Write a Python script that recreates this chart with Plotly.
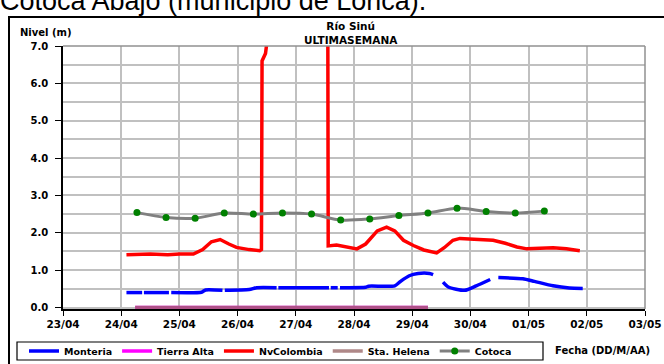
import plotly.graph_objects as go

# ---------------- data ----------------
monteria_t = ["2008-04-24 02:10", "2008-04-24 08:38", None, "2008-04-24 09:22", "2008-04-24 19:41", None,
              "2008-04-24 20:38", "2008-04-25 09:07", "2008-04-25 10:48", "2008-04-25 17:46", None,
              "2008-04-25 18:43", "2008-04-26 04:48", "2008-04-26 07:55", "2008-04-26 16:05", None,
              "2008-04-26 16:48", "2008-04-27 13:41", None, "2008-04-27 14:24", "2008-04-27 17:17", None,
              "2008-04-27 18:14", "2008-04-28 04:48", "2008-04-28 06:00", "2008-04-28 16:48",
              "2008-04-28 19:12", "2008-04-28 22:48", "2008-04-29 02:24", "2008-04-29 07:12",
              "2008-04-29 08:38", None, "2008-04-29 12:43", "2008-04-29 14:53", "2008-04-29 21:36",
              "2008-04-30 02:24", "2008-04-30 08:10", None, "2008-04-30 11:31", "2008-04-30 21:36",
              "2008-05-01 02:24", "2008-05-01 10:05", "2008-05-01 16:48", "2008-05-01 22:19"]
monteria_v = [0.40, 0.40, None, 0.40, 0.40, None,
              0.40, 0.41, 0.47, 0.46, None,
              0.46, 0.48, 0.53, 0.53, None,
              0.53, 0.53, None, 0.53, 0.53, None,
              0.53, 0.54, 0.57, 0.58,
              0.70, 0.85, 0.91, 0.91,
              0.88, None, 0.68, 0.55, 0.46,
              0.58, 0.75, None, 0.80, 0.77,
              0.70, 0.58, 0.52, 0.51]

tierra_t = ["2008-04-24 05:45", "2008-04-29 06:30"]
tierra_v = [0.0, 0.0]

helena_t = ["2008-04-24 05:45", "2008-04-29 06:30"]
helena_v = [0.0, 0.0]

nvcol_t = ["2008-04-24 02:10", "2008-04-24 12:00", "2008-04-24 19:12", "2008-04-25 00:00",
           "2008-04-25 05:46", "2008-04-25 09:36", "2008-04-25 13:12", "2008-04-25 16:48",
           "2008-04-25 20:24", "2008-04-25 23:31", "2008-04-26 04:48", "2008-04-26 09:07",
           "2008-04-26 09:50", "2008-04-26 10:05", "2008-04-26 11:30", "2008-04-26 12:30",
           "2008-04-26 14:00", "2008-04-27 12:00", "2008-04-27 13:12", "2008-04-27 13:22",
           "2008-04-27 16:48", "2008-04-27 20:24", "2008-04-28 01:12", "2008-04-28 04:48",
           "2008-04-28 09:36", "2008-04-28 13:26", "2008-04-28 16:48", "2008-04-28 20:24",
           "2008-04-29 00:29", "2008-04-29 04:48", "2008-04-29 10:05", "2008-04-29 13:12",
           "2008-04-29 16:48", "2008-04-29 19:41", "2008-04-30 00:00", "2008-04-30 04:48",
           "2008-04-30 09:22", "2008-04-30 14:24", "2008-04-30 19:12", "2008-04-30 23:17",
           "2008-05-01 04:48", "2008-05-01 10:05", "2008-05-01 15:36", "2008-05-01 21:07"]
nvcol_v = [1.41, 1.43, 1.41, 1.43,
           1.43, 1.55, 1.76, 1.82,
           1.70, 1.61, 1.55, 1.52,
           1.55, 6.60, 6.80, 7.30,
           9.00, 9.00, 7.50, 1.65,
           1.67, 1.62, 1.57, 1.70,
           2.05, 2.15, 2.05, 1.80,
           1.66, 1.54, 1.46, 1.60,
           1.80, 1.85, 1.83, 1.82,
           1.80, 1.72, 1.62, 1.57,
           1.58, 1.60, 1.57, 1.52]

cotoca_t = ["2008-04-24 06:30", "2008-04-24 18:30", "2008-04-25 06:30", "2008-04-25 18:30",
            "2008-04-26 06:30", "2008-04-26 18:30", "2008-04-27 06:30", "2008-04-27 18:30",
            "2008-04-28 06:30", "2008-04-28 18:30", "2008-04-29 06:30", "2008-04-29 18:30",
            "2008-04-30 06:30", "2008-04-30 18:30", "2008-05-01 06:30"]
cotoca_v = [2.54, 2.41, 2.39, 2.53, 2.50, 2.53, 2.50, 2.34, 2.37, 2.46, 2.53, 2.66, 2.57, 2.53, 2.58]

x_ticks = ["2008-04-23", "2008-04-24", "2008-04-25", "2008-04-26", "2008-04-27", "2008-04-28",
           "2008-04-29", "2008-04-30", "2008-05-01", "2008-05-02", "2008-05-03"]
x_labels = ["23/04", "24/04", "25/04", "26/04", "27/04", "28/04", "29/04", "30/04", "01/05", "02/05", "03/05"]
y_ticks = [0, 1, 2, 3, 4, 5, 6, 7]
y_labels = ["0.0", "1.0", "2.0", "3.0", "4.0", "5.0", "6.0", "7.0"]

FONT = "Arial, Liberation Sans, sans-serif"
BFONT = "DejaVu Sans, Arial, sans-serif"
W, H = 664, 364
L, R, T, B = 63, 19, 46, 55
PW, PH = W - L - R, H - T - B


def px(xp):
    return (xp - L) / PW


def py(yp):
    return (H - B - yp) / PH


fig = go.Figure()
fig.add_trace(go.Scatter(x=monteria_t, y=monteria_v, name="Monteria", mode="lines",
                         line=dict(color="#0000FF", width=3.5, shape="spline", smoothing=0.6),
                         connectgaps=False))
fig.add_trace(go.Scatter(x=tierra_t, y=tierra_v, name="Tierra Alta", mode="lines",
                         line=dict(color="#FF00FF", width=3.5)))
fig.add_trace(go.Scatter(x=nvcol_t, y=nvcol_v, name="NvColombia", mode="lines",
                         line=dict(color="#FF0000", width=3.5)))
fig.add_trace(go.Scatter(x=helena_t, y=helena_v, name="Sta. Helena", mode="lines",
                         line=dict(color="rgba(153,102,102,0.78)", width=3.5)))
fig.add_trace(go.Scatter(x=cotoca_t, y=cotoca_v, name="Cotoca", mode="lines+markers",
                         line=dict(color="#808080", width=3, shape="spline", smoothing=0.8),
                         marker=dict(color="#008000", size=7)))

# outer frame
fig.add_shape(type="rect", xref="paper", yref="paper", x0=px(9), x1=px(700), y0=py(380), y1=py(17),
              line=dict(color="black", width=2), layer="below")
# legend box
fig.add_shape(type="rect", xref="paper", yref="paper", x0=px(17), x1=px(543), y0=py(360), y1=py(342),
              line=dict(color="black", width=1.2), fillcolor="white", layer="below")
# plot border (top / right)
fig.add_shape(type="line", xref="paper", yref="paper", x0=0, x1=1, y0=1, y1=1,
              line=dict(color="#909090", width=1.5))
fig.add_shape(type="line", xref="paper", yref="paper", x0=1, x1=1, y0=0, y1=1,
              line=dict(color="#909090", width=1.5))

fig.add_annotation(text="Cotoca Abajo (municipio de Lorica).", xref="paper", yref="paper",
                   x=px(-2), y=py(18), xanchor="left", yanchor="bottom", showarrow=False,
                   font=dict(family=FONT, size=27, color="black"))
fig.add_annotation(text="Río Sinú<br>ULTIMASEMANA", xref="paper", yref="paper",
                   x=px(351), y=py(33), xanchor="center", yanchor="middle", showarrow=False,
                   font=dict(family=BFONT, size=10.5, color="black", weight="bold"))
fig.add_annotation(text="Nivel (m)", xref="paper", yref="paper",
                   x=px(18), y=py(33), xanchor="left", yanchor="middle", showarrow=False,
                   font=dict(family=BFONT, size=10, color="black", weight="bold"))
fig.add_annotation(text="Fecha (DD/M/AA)", xref="paper", yref="paper",
                   x=px(553), y=py(350), xanchor="left", yanchor="middle", showarrow=False,
                   font=dict(family=BFONT, size=10, color="black", weight="bold"))

fig.update_layout(
    width=W, height=H,
    margin=dict(l=L, r=R, t=T, b=B, autoexpand=False),
    paper_bgcolor="white", plot_bgcolor="white",
    font=dict(family=FONT, color="black"),
    showlegend=True,
    legend=dict(orientation="h", xref="container", yref="container",
                x=24 / W, y=1 - 351 / H, xanchor="left", yanchor="middle",
                borderwidth=0, bgcolor="rgba(0,0,0,0)",
                font=dict(family=BFONT, size=9.5, color="black", weight="bold"),
                tracegroupgap=0, itemwidth=30),
    xaxis=dict(type="date", range=["2008-04-23", "2008-05-03"],
               tickvals=x_ticks, ticktext=x_labels,
               showgrid=True, gridcolor="#C0C0C0", gridwidth=1.5,
               showline=True, linecolor="black", linewidth=1.5,
               ticks="outside", ticklen=5, tickcolor="black", tickwidth=1.2,
               tickfont=dict(family=BFONT, size=10.5, color="black", weight="bold"),
               layer="below traces", zeroline=False, automargin=False),
    yaxis=dict(range=[-0.04, 7], tickvals=y_ticks, ticktext=y_labels,
               showgrid=True, gridcolor="#C0C0C0", gridwidth=1.5,
               minor=dict(dtick=0.5, tick0=0, showgrid=True, gridcolor="#C0C0C0", gridwidth=1.5),
               showline=True, linecolor="black", linewidth=1.5,
               ticks="outside", ticklen=6, tickcolor="black", tickwidth=1.2,
               ticklabelstandoff=5,
               tickfont=dict(family=BFONT, size=10, color="black", weight="bold"),
               layer="below traces", zeroline=False, automargin=False),
)

fig.write_html("out.html", config={"displayModeBar": False},
               post_script="document.body.style.margin='0';document.body.style.overflow='hidden';")
